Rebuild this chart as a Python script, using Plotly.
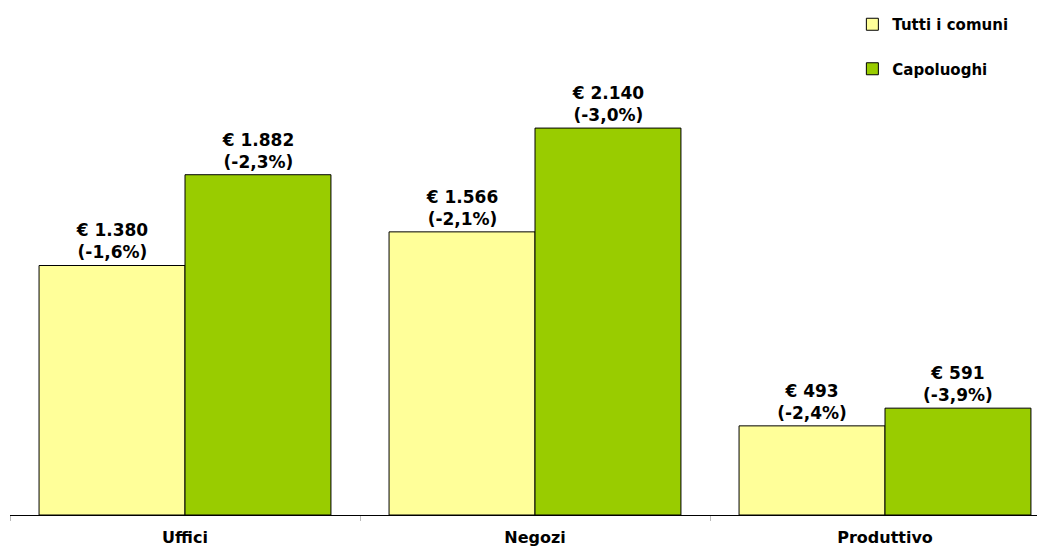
import plotly.graph_objects as go

categories = ["Uffici", "Negozi", "Produttivo"]
tutti = [1380, 1566, 493]
capoluoghi = [1882, 2140, 591]
tutti_var = ["-1,6%", "-2,1%", "-2,4%"]
capoluoghi_var = ["-2,3%", "-3,0%", "-3,9%"]


def fmt(v):
    return "€ " + f"{v:,}".replace(",", ".")


font_family = "DejaVu Sans, Verdana, sans-serif"

fig = go.Figure()
for name, vals, var, color in [
    ("Tutti i comuni", tutti, tutti_var, "#FFFF99"),
    ("Capoluoghi", capoluoghi, capoluoghi_var, "#99CC00"),
]:
    fig.add_trace(
        go.Bar(
            x=categories,
            y=vals,
            name=name,
            legendgroup=name,
            marker=dict(color=color, line=dict(color="#000000", width=1)),
            text=[f"<b>{fmt(v)}</b><br><b>({p})</b>" for v, p in zip(vals, var)],
            textposition="outside",
            textfont=dict(size=17, color="#000000", family=font_family),
            cliponaxis=False,
        )
    )

# the page body adds an 8px offset, margins compensate for it
fig.update_layout(
    width=1045,
    height=547,
    barmode="group",
    bargap=0.166,
    bargroupgap=0,
    plot_bgcolor="white",
    paper_bgcolor="white",
    margin=dict(l=2, r=0, t=55, b=40, autoexpand=False),
    font=dict(family=font_family, color="#000000"),
    legend=dict(
        xref="container",
        yref="container",
        x=0.808,
        y=1.0,
        xanchor="left",
        yanchor="top",
        traceorder="grouped",
        tracegroupgap=22,
        font=dict(size=15, weight="bold"),
        itemwidth=30,
    ),
    xaxis=dict(
        range=[-0.5, 2.48],
        showline=True,
        linecolor="#000000",
        linewidth=1,
        ticks="outside",
        tickson="boundaries",
        tickcolor="#BBBBBB",
        ticklen=5,
        ticklabelstandoff=8,
        tickfont=dict(size=16),
        tickvals=categories,
        ticktext=[f"<b>{c}</b>" for c in categories],
    ),
    yaxis=dict(range=[0, 2500], visible=False, showgrid=False),
)

fig.write_html("out.html")
